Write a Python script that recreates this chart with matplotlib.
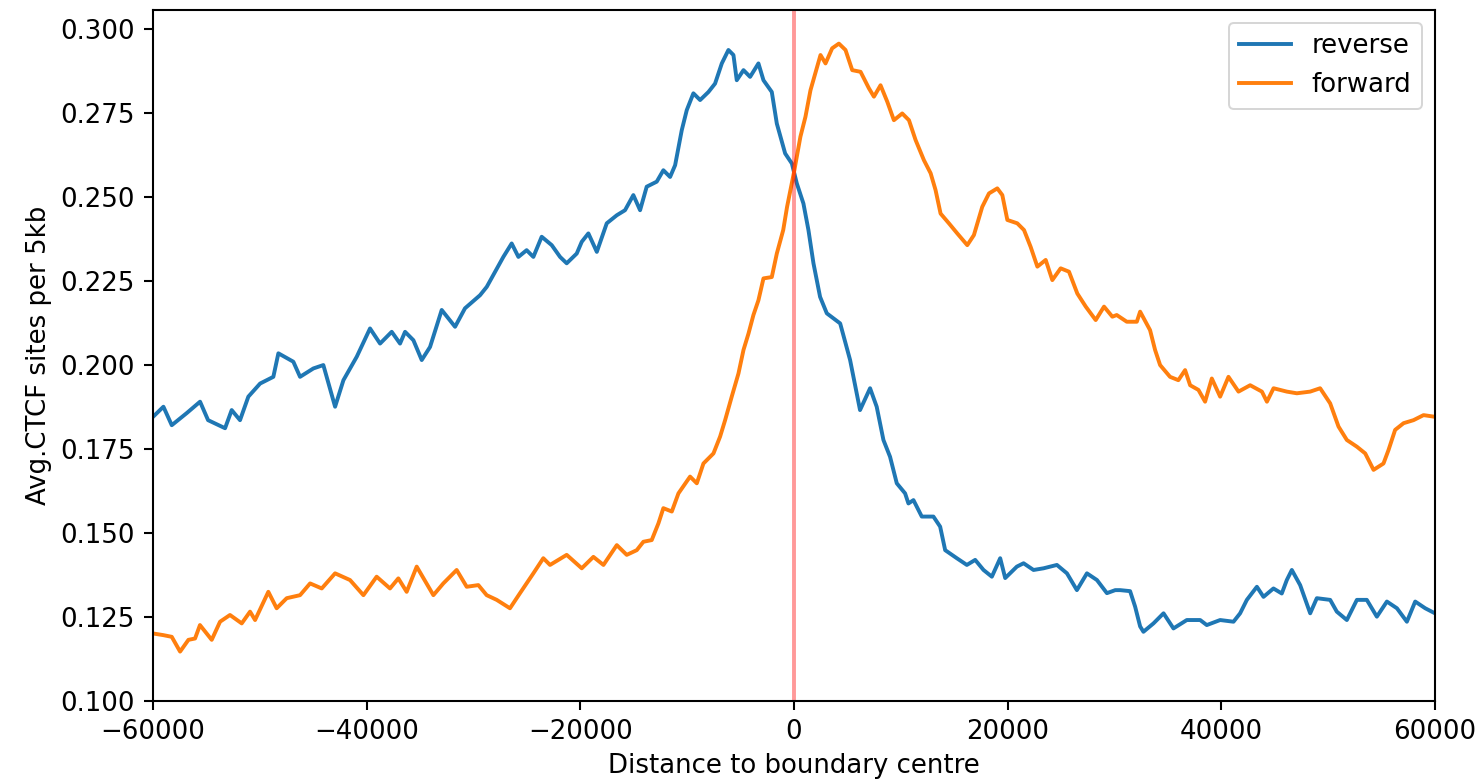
import matplotlib.pyplot as plt

# reverse-strand CTCF sites (blue)
rev_x = [-60000, -59030, -58250, -56850, -55600, -54850, -53260, -52640, -51860, -51080,
         -49980, -48740, -48270, -46870, -46240, -44990, -44060, -43750, -42960, -42180,
         -40930, -39690, -38750, -37660, -36880, -36410, -35630, -34850, -34070, -32980,
         -31730, -30800, -29390, -28760, -27210, -26430, -25800, -25030, -24400, -23620,
         -22680, -21900, -21280, -20340, -19870, -19250, -18460, -17530, -16590, -15820,
         -15040, -14410, -13790, -12850, -12230, -11600, -11130, -10510, -10040, -9420,
         -8790, -8010, -7390, -6760, -6140, -5670, -5360, -4730, -4110, -3330,
         -2860, -2080, -1610, -830, -200, 260, 880, 1350, 1820, 2440,
         3070, 4320, 5250, 6180, 7120, 7740, 8370, 8990, 9620, 10400,
         10710, 11180, 11960, 13050, 13680, 14150, 15240, 16180, 16960, 17740,
         18520, 19300, 19770, 20860, 21490, 22420, 23360, 24610, 25550, 26480,
         27420, 28360, 29290, 30070, 30530, 31460, 31930, 32400, 32710, 33650,
         34590, 35520, 36770, 38020, 38640, 39890, 41140, 41760, 42390, 43330,
         43950, 44880, 45660, 46130, 46600, 47380, 48320, 48940, 50190, 50810,
         51750, 52690, 53620, 54560, 55500, 56440, 57370, 58150, 59090, 60000]
rev_y = [0.1846, 0.1876, 0.1821, 0.1857, 0.1891, 0.1836, 0.1812, 0.1866, 0.1836, 0.1906,
         0.1945, 0.1965, 0.2035, 0.2010, 0.1965, 0.1990, 0.2000, 0.1965, 0.1876, 0.1955,
         0.2025, 0.2109, 0.2064, 0.2099, 0.2064, 0.2099, 0.2074, 0.2015, 0.2054, 0.2164,
         0.2114, 0.2169, 0.2208, 0.2233, 0.2322, 0.2362, 0.2322, 0.2342, 0.2322, 0.2382,
         0.2357, 0.2322, 0.2303, 0.2332, 0.2367, 0.2392, 0.2337, 0.2422, 0.2446, 0.2461,
         0.2506, 0.2461, 0.2531, 0.2546, 0.2580, 0.2560, 0.2595, 0.2699, 0.2759, 0.2809,
         0.2789, 0.2813, 0.2838, 0.2898, 0.2938, 0.2923, 0.2848, 0.2878, 0.2858, 0.2898,
         0.2848, 0.2813, 0.2719, 0.2630, 0.2600, 0.2541, 0.2481, 0.2402, 0.2303, 0.2203,
         0.2154, 0.2124, 0.2015, 0.1866, 0.1931, 0.1876, 0.1777, 0.1727, 0.1648, 0.1618,
         0.1588, 0.1598, 0.1549, 0.1549, 0.1519, 0.1449, 0.1425, 0.1405, 0.1420, 0.1390,
         0.1370, 0.1425, 0.1366, 0.1400, 0.1410, 0.1390, 0.1395, 0.1405, 0.1380, 0.1330,
         0.1380, 0.1360, 0.1321, 0.1330, 0.1330, 0.1327, 0.1281, 0.1222, 0.1206, 0.1231,
         0.1261, 0.1216, 0.1241, 0.1241, 0.1226, 0.1241, 0.1236, 0.1261, 0.1301, 0.1340,
         0.1310, 0.1335, 0.1320, 0.1360, 0.1390, 0.1345, 0.1261, 0.1306, 0.1301, 0.1266,
         0.1241, 0.1301, 0.1301, 0.1251, 0.1296, 0.1276, 0.1236, 0.1296, 0.1276, 0.1261]

# forward-strand CTCF sites (orange)
fwd_x = [-60000, -59030, -58250, -57470, -56690, -56070, -55610, -54510, -53730, -52800,
         -51700, -50920, -50450, -49210, -48430, -47490, -46240, -45300, -44210, -42960,
         -41560, -40310, -39070, -37820, -37040, -36260, -35320, -33760, -32830, -31580,
         -30640, -29550, -28770, -27830, -26590, -25650, -24400, -23470, -22840, -21280,
         -19870, -18780, -17840, -16590, -15660, -14720, -14100, -13320, -12690, -12230,
         -11440, -10820, -9730, -9100, -8480, -7540, -6920, -6450, -5830, -5200,
         -4730, -4260, -3800, -3330, -2860, -2080, -1610, -1010, -650, -20,
         600, 1070, 1540, 2160, 2480, 2950, 3570, 4200, 4820, 5450,
         6230, 7010, 7480, 8100, 8730, 9350, 10130, 10760, 11380, 12160,
         12790, 13250, 13720, 14500, 15280, 16220, 16840, 17620, 18250, 19030,
         19500, 19970, 20900, 21530, 22150, 22780, 23560, 24180, 24960, 25740,
         26520, 27310, 28240, 29020, 29800, 30210, 31150, 32090, 32400, 33330,
         33800, 34270, 35200, 35980, 36610, 37080, 37860, 38480, 39110, 39890,
         40670, 41610, 42700, 43800, 44270, 44890, 46130, 47070, 48320, 49250,
         50190, 50970, 51750, 52690, 53470, 54250, 55180, 55650, 56270, 57060,
         57990, 58930, 60000]
fwd_y = [0.1201, 0.1196, 0.1191, 0.1147, 0.1182, 0.1186, 0.1226, 0.1182, 0.1236, 0.1256,
         0.1231, 0.1266, 0.1241, 0.1325, 0.1276, 0.1306, 0.1315, 0.1350, 0.1335, 0.1380,
         0.1360, 0.1315, 0.1370, 0.1335, 0.1365, 0.1325, 0.1400, 0.1315, 0.1350, 0.1390,
         0.1340, 0.1345, 0.1315, 0.1301, 0.1276, 0.1321, 0.1380, 0.1425, 0.1405, 0.1435,
         0.1395, 0.1429, 0.1405, 0.1464, 0.1435, 0.1449, 0.1474, 0.1479, 0.1529, 0.1574,
         0.1564, 0.1618, 0.1668, 0.1648, 0.1707, 0.1737, 0.1787, 0.1836, 0.1906, 0.1975,
         0.2045, 0.2094, 0.2149, 0.2193, 0.2258, 0.2262, 0.2332, 0.2402, 0.2471, 0.2571,
         0.2680, 0.2739, 0.2818, 0.2888, 0.2923, 0.2898, 0.2943, 0.2957, 0.2938, 0.2878,
         0.2873, 0.2824, 0.2799, 0.2833, 0.2784, 0.2729, 0.2749, 0.2729, 0.2670, 0.2610,
         0.2571, 0.2521, 0.2451, 0.2422, 0.2392, 0.2357, 0.2387, 0.2471, 0.2511, 0.2526,
         0.2506, 0.2432, 0.2422, 0.2402, 0.2352, 0.2293, 0.2313, 0.2253, 0.2288, 0.2278,
         0.2213, 0.2174, 0.2134, 0.2174, 0.2144, 0.2149, 0.2129, 0.2129, 0.2159, 0.2104,
         0.2045, 0.2000, 0.1965, 0.1955, 0.1985, 0.1940, 0.1926, 0.1891, 0.1960, 0.1906,
         0.1965, 0.1921, 0.1940, 0.1921, 0.1891, 0.1931, 0.1921, 0.1916, 0.1921, 0.1931,
         0.1886, 0.1817, 0.1777, 0.1757, 0.1737, 0.1688, 0.1707, 0.1747, 0.1807, 0.1827,
         0.1836, 0.1851, 0.1846]

# reference looks like a default notebook figure blown up ~1.3x
s = 1.3
plt.rcParams['font.size'] = 10 * s
plt.rcParams['axes.linewidth'] = 0.8 * s
for a in ('xtick', 'ytick'):
    plt.rcParams[a + '.major.size'] = 3.5 * s
    plt.rcParams[a + '.major.width'] = 0.8 * s
    plt.rcParams[a + '.major.pad'] = 3.5 * s

fig = plt.figure(figsize=(1476 / 144, 782 / 144), dpi=144)
ax = fig.add_axes([0.1037, 0.1036, 0.8685, 0.8836])

ax.plot(rev_x, rev_y, color='tab:blue', lw=1.5 * s, label='reverse')
ax.plot(fwd_x, fwd_y, color='tab:orange', lw=1.5 * s, label='forward')
ax.axvline(0, color='red', alpha=0.4, lw=1.5 * s)

ax.set_xlim(-60000, 60000)
ax.set_ylim(0.1, 0.3057)
ax.set_xlabel('Distance to boundary centre')
ax.set_ylabel('Avg.CTCF sites per 5kb')
ax.legend(loc='upper right')

fig.savefig('out.png', dpi=144)
